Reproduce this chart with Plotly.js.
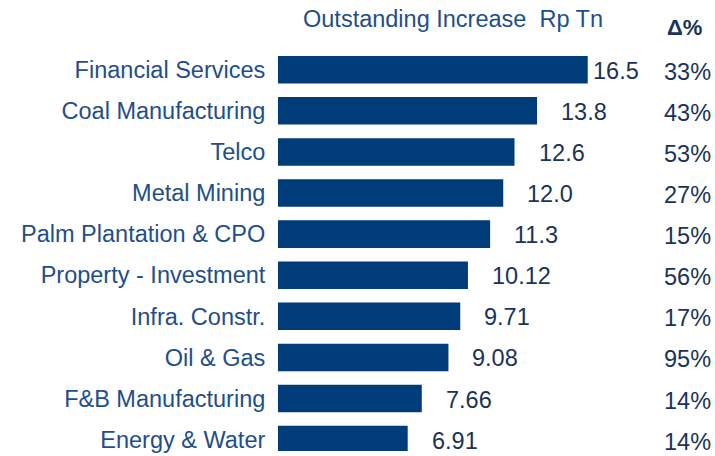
<!DOCTYPE html>
<html>
<head>
<meta charset="utf-8">
<script src="https://cdn.plot.ly/plotly-3.0.1.min.js"></script>
<style>html,body{margin:0;padding:0;background:#fff;}#chart{width:715px;height:456px;}</style>
</head>
<body>
<div id="chart"></div>
<script>
// ---- data ----
var categories = ["Financial Services", "Coal Manufacturing", "Telco", "Metal Mining",
  "Palm Plantation & CPO", "Property - Investment", "Infra. Constr.", "Oil & Gas",
  "F&B Manufacturing", "Energy & Water"];
var increaseRpTn = [16.5, 13.8, 12.6, 12.0, 11.3, 10.12, 9.71, 9.08, 7.66, 6.91];
var valueLabels = ["16.5", "13.8", "12.6", "12.0", "11.3", "10.12", "9.71", "9.08", "7.66", "6.91"];
var deltaPct = ["33%", "43%", "53%", "27%", "15%", "56%", "17%", "95%", "14%", "14%"];
var chartTitle = "Outstanding Increase\u00A0\u00A0Rp Tn";
var deltaHeader = "\u0394%";

// ---- styles ----
var FONT = "Liberation Sans, Arial, sans-serif";
var barColor = "#003B7A";
var labelBlue = "#1F4E8C";
var darkNavy = "#1A3358";
var FS = 23.5;
var labelShift = [3, 22, 22, 22, 22, 22, 22, 22, 22, 22];

var trace = {
  type: "bar",
  orientation: "h",
  x: increaseRpTn,
  y: categories,
  marker: {color: barColor},
  width: 0.67,
  hoverinfo: "none"
};

var annotations = [];
categories.forEach(function (c, i) {
  annotations.push({
    x: increaseRpTn[i], y: c, xref: "x", yref: "y",
    text: valueLabels[i], showarrow: false, xanchor: "left", yanchor: "middle",
    xshift: labelShift[i], yshift: -1,
    font: {family: FONT, size: FS, color: darkNavy}
  });
  annotations.push({
    x: 1, y: c, xref: "paper", yref: "y",
    text: deltaPct[i], showarrow: false, xanchor: "right", yanchor: "middle",
    yshift: -2,
    font: {family: FONT, size: FS, color: darkNavy}
  });
});
annotations.push({
  x: 0.053, y: 1.051, xref: "paper", yref: "paper",
  text: chartTitle, showarrow: false, xanchor: "left", yanchor: "middle",
  font: {family: FONT, size: FS, color: labelBlue}
});
annotations.push({
  x: 0.979, y: 1.03, xref: "paper", yref: "paper",
  text: "<b>" + deltaHeader + "</b>", showarrow: false, xanchor: "right", yanchor: "middle",
  font: {family: FONT, size: 22, color: darkNavy}
});

var layout = {
  width: 715, height: 456,
  margin: {l: 278, r: 2, t: 40, b: 5},
  paper_bgcolor: "#ffffff", plot_bgcolor: "#ffffff",
  showlegend: false,
  xaxis: {range: [0, 23.175], visible: false, fixedrange: true},
  yaxis: {
    type: "category",
    range: [9.277, -0.7226],
    showgrid: false, zeroline: false, showline: false,
    ticks: "outside", ticklen: 7, tickcolor: "rgba(0,0,0,0)",
    tickfont: {family: FONT, size: FS, color: labelBlue},
    fixedrange: true
  },
  annotations: annotations
};

Plotly.newPlot("chart", [trace], layout, {displayModeBar: false, staticPlot: true});
</script>
</body>
</html>
